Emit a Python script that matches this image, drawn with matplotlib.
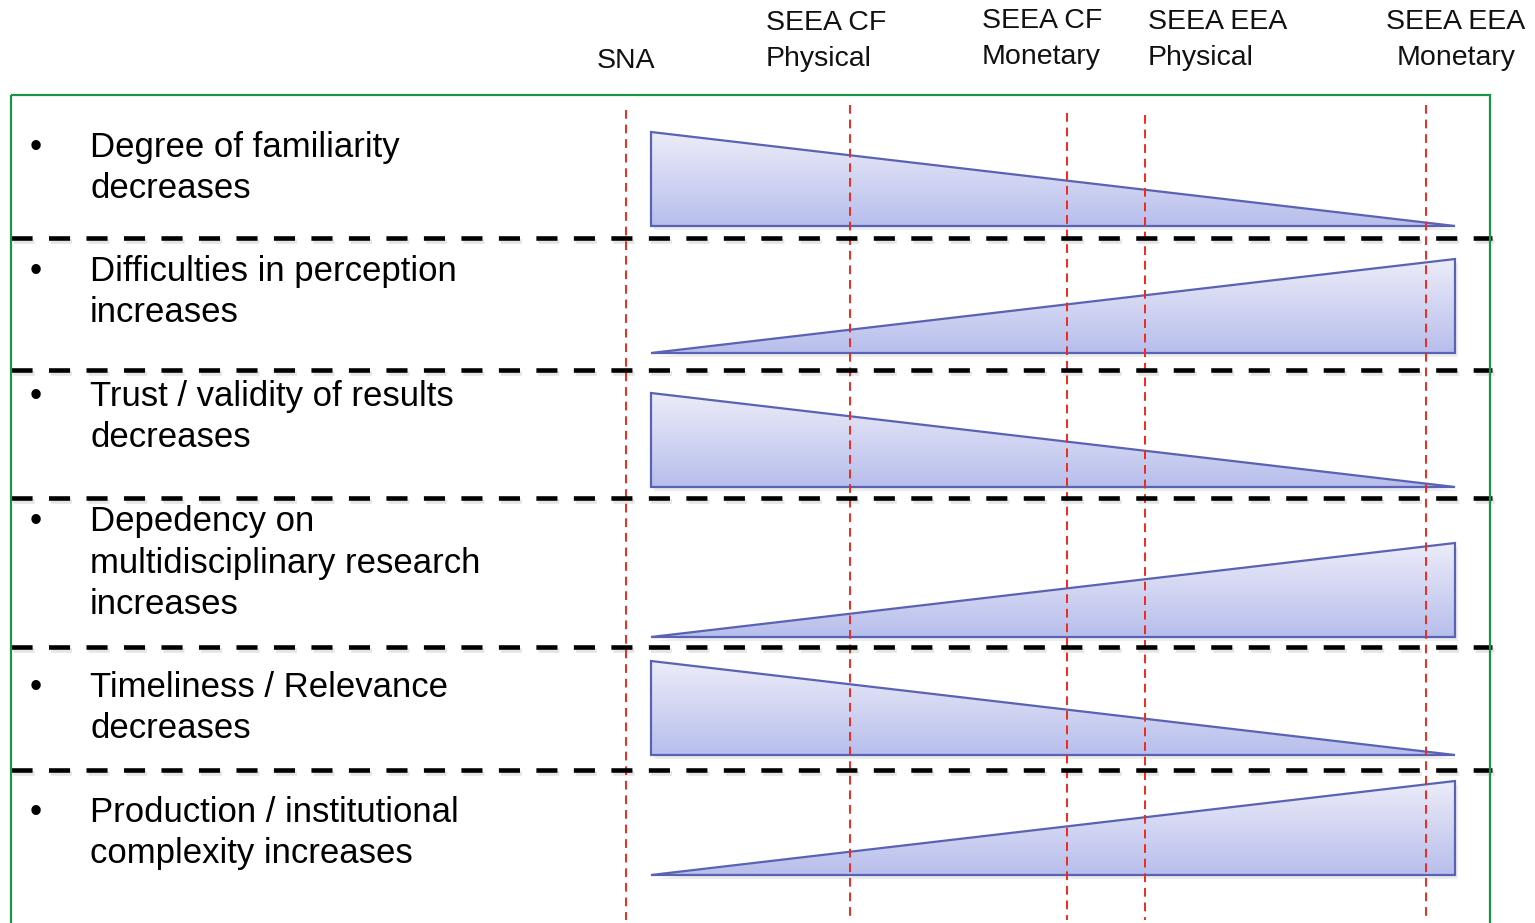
import numpy as np
import matplotlib
matplotlib.use("Agg")
import matplotlib.pyplot as plt
from matplotlib.patches import Polygon, Rectangle

# ---- data ----
stages = ["SNA", "SEEA CF\nPhysical", "SEEA CF\nMonetary", "SEEA EEA\nPhysical", "SEEA EEA\nMonetary"]
criteria = [
    "Degree of familiarity\ndecreases",
    "Difficulties in perception\nincreases",
    "Trust / validity of results\ndecreases",
    "Depedency on\nmultidisciplinary research\nincreases",
    "Timeliness / Relevance\ndecreases",
    "Production / institutional\ncomplexity increases",
]
direction = ["decreasing", "increasing", "decreasing", "increasing", "decreasing", "increasing"]

# ---- layout (pixel coordinates) ----
W, H = 1535, 923
fig = plt.figure(figsize=(W / 100, H / 100), dpi=100)
ax = fig.add_axes([0, 0, 1, 1])
ax.set_xlim(0, W)
ax.set_ylim(H, 0)
ax.axis("off")

FONT = "Liberation Sans"

# stage label layout
stage_x = [626, 850, 1067, 1145, 1426]
stage_label_pos = [(626, 61, "center"), (766, 41, "left"), (982, 39, "left"),
                   (1148, 40, "left"), (1456, 40, "center")]
for lab, (x, y, ha) in zip(stages, stage_label_pos):
    ax.text(x, y, lab, fontsize=20.5, family=FONT, ha=ha, va="center",
            linespacing=1.5, color="#111111")

# green frame
ax.add_patch(Rectangle((11, 95), 1479, 840, fill=False, edgecolor="#1a9448", lw=1.6, zorder=5))

# row bands
row_top = [132, 259, 393, 543, 661, 781]
row_h = 94
x_left, x_right = 651, 1455
sep_y = [238, 370, 498, 647, 770]
text_y = [168, 292, 417, 563, 708, 833]

# gradient image
grad = np.linspace(0, 1, 256).reshape(-1, 1)
c_top = np.array([0.925, 0.925, 0.975])
c_bot = np.array([0.72, 0.745, 0.925])
img = c_top[None, None, :] * (1 - grad[..., None]) + c_bot[None, None, :] * grad[..., None]

for i, (top, d) in enumerate(zip(row_top, direction)):
    bot = top + row_h
    if d == "decreasing":
        pts = [(x_left, top), (x_left, bot), (x_right, bot)]
    else:
        pts = [(x_left, bot), (x_right, bot), (x_right, top)]
    sh = Polygon([(px + 3, py + 4) for px, py in pts], closed=True,
                 facecolor="#000000", alpha=0.07, edgecolor="none", zorder=1)
    ax.add_patch(sh)
    poly = Polygon(pts, closed=True, facecolor="none", edgecolor="#5a63b3", lw=1.6,
                   zorder=3, joinstyle="miter")
    ax.add_patch(poly)
    im = ax.imshow(img, extent=(x_left, x_right, bot, top), aspect="auto",
                   zorder=2, interpolation="bilinear")
    im.set_clip_path(poly)

# vertical red dashed lines
red_top = [110, 105, 113, 115, 105]
for x, t in zip(stage_x, red_top):
    ax.plot([x, x], [t, 920], color="#ee2a1b", lw=1.4, ls=(0, (4.5, 3)), zorder=4)

# horizontal black dashed separators
dash = (0, (4.6, 3.58))
for k, y in enumerate(sep_y):
    xe = 1492
    ax.plot([13, xe + 2], [y + 3, y + 3], color="#000000", alpha=0.10, lw=3.3,
            ls=dash, zorder=3.5, solid_capstyle="butt")
    ax.plot([11, xe], [y, y], color="#000000", lw=3.3, ls=dash,
            zorder=4, solid_capstyle="butt")

# criteria text
for lab, y in zip(criteria, text_y):
    nlines = lab.count("\n") + 1
    ax.text(90, y, lab, fontsize=25, family=FONT, ha="left", va="center",
            linespacing=1.33, color="#000000")
    ax.text(36, y, "\u2022" + "\n" * (nlines - 1) + (" " if nlines > 1 else ""),
            fontsize=25, family=FONT, ha="center", va="center",
            linespacing=1.33, color="#000000")

fig.savefig("out.png", dpi=100)
